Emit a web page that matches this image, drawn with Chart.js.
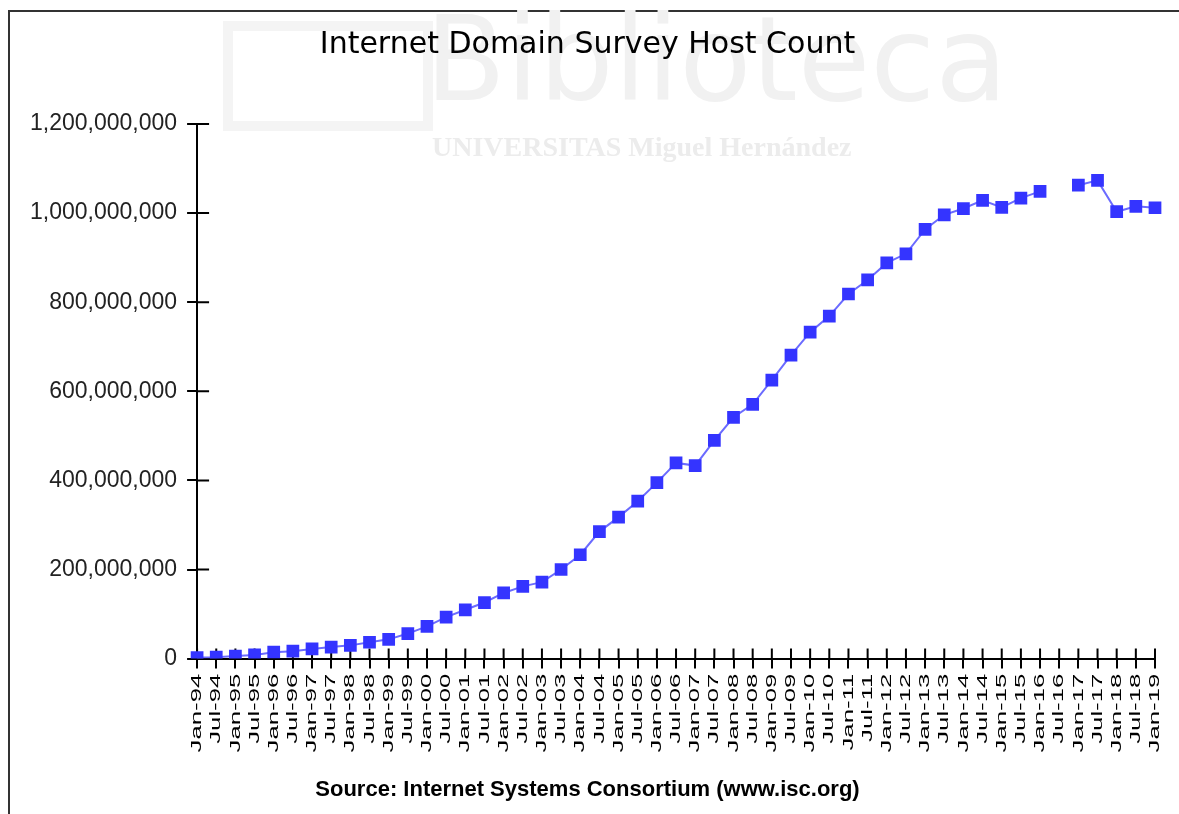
<!DOCTYPE html>
<html>
<head>
<meta charset="utf-8">
<script src="https://cdn.jsdelivr.net/npm/chart.js@4.4.0/dist/chart.umd.min.js"></script>
<style>
    html, body { margin: 0; padding: 0; background: #fff; }
    #wrap { position: relative; width: 1179px; height: 814px; overflow: hidden; }
    #frame { position: absolute; left: 8px; top: 10px; width: 1200px; height: 900px;
             border-left: 2px solid #333; border-top: 2px solid #333; }
    canvas { position: absolute; left: 0; top: 0; }
</style>
</head>
<body>
<div id="wrap">
    <div id="frame"></div>
    <canvas id="hostChart" width="1179" height="814"></canvas>
</div>
<script>
// Semestres do levantamento (Jan/Jul)
const surveyDates = [
    'Jan-94', 'Jul-94', 'Jan-95', 'Jul-95', 'Jan-96', 'Jul-96', 'Jan-97', 'Jul-97',
    'Jan-98', 'Jul-98', 'Jan-99', 'Jul-99', 'Jan-00', 'Jul-00', 'Jan-01', 'Jul-01',
    'Jan-02', 'Jul-02', 'Jan-03', 'Jul-03', 'Jan-04', 'Jul-04', 'Jan-05', 'Jul-05',
    'Jan-06', 'Jul-06', 'Jan-07', 'Jul-07', 'Jan-08', 'Jul-08', 'Jan-09', 'Jul-09',
    'Jan-10', 'Jul-10', 'Jan-11', 'Jul-11', 'Jan-12', 'Jul-12', 'Jan-13', 'Jul-13',
    'Jan-14', 'Jul-14', 'Jan-15', 'Jul-15', 'Jan-16', 'Jul-16', 'Jan-17', 'Jul-17',
    'Jan-18', 'Jul-18', 'Jan-19'
];

// Número de hosts, Jul-16 sem dado
const hostCounts = [
    2200000, 3200000, 5800000, 8200000, 14400000, 16700000, 21800000, 26000000,
    29700000, 36700000, 43200000, 56200000, 72400000, 93000000, 109600000, 125900000,
    147300000, 162100000, 171600000, 200000000, 233100000, 285100000, 317600000, 353300000,
    395000000, 439300000, 433200000, 489800000, 541700000, 570900000, 625200000, 681100000,
    732700000, 768900000, 818400000, 849900000, 888200000, 908600000, 963500000, 996200000,
    1010300000, 1028500000, 1012700000, 1033600000, 1048800000, null, 1062700000, 1073500000,
    1003100000, 1015100000, 1012000000
];

const yTicks = [0, 200000000, 400000000, 600000000, 800000000, 1000000000, 1200000000];

const chartTitle = 'Internet Domain Survey Host Count';
const chartSource = 'Source: Internet Systems Consortium (www.isc.org)';

// Marca d'água ao fundo
const watermark = {
    id: 'watermark',
    beforeDraw(chart) {
        const ctx = chart.ctx;
        ctx.save();
        ctx.strokeStyle = '#f4f4f4';
        ctx.lineWidth = 10;
        ctx.strokeRect(228, 26, 200, 100);
        ctx.fillStyle = '#f1f1f1';
        ctx.font = '118px "DejaVu Sans"';
        ctx.textBaseline = 'alphabetic';
        ctx.fillText('Biblioteca', 425, 100);
        ctx.font = 'bold 28px "Liberation Serif"';
        ctx.fillStyle = '#ececec';
        ctx.fillText('UNIVERSITAS Miguel Hernández', 432, 156);
        ctx.restore();
    }
};

// Traços dos ticks cruzando os eixos
const crossTicks = {
    id: 'crossTicks',
    beforeDatasetsDraw(chart) {
        const ctx = chart.ctx;
        const x = chart.scales.x;
        const y = chart.scales.y;
        const area = chart.chartArea;
        ctx.save();
        ctx.strokeStyle = '#000';
        ctx.lineWidth = 2;
        ctx.beginPath();
        x.ticks.forEach((t, i) => {
            const px = x.getPixelForTick(i);
            ctx.moveTo(px, area.bottom);
            ctx.lineTo(px, area.bottom - 10);
        });
        y.ticks.forEach((t, i) => {
            const py = y.getPixelForTick(i);
            ctx.moveTo(area.left, py);
            ctx.lineTo(area.left + 12, py);
        });
        ctx.stroke();
        ctx.restore();
    }
};

// Rótulos verticais do eixo X, esticados como no original
const xLabels = {
    id: 'xLabels',
    afterDraw(chart) {
        const ctx = chart.ctx;
        const x = chart.scales.x;
        const top = chart.chartArea.bottom + 15;
        ctx.save();
        ctx.fillStyle = '#000';
        ctx.font = '15px "Liberation Sans"';
        ctx.textAlign = 'right';
        ctx.textBaseline = 'middle';
        chart.data.labels.forEach((lbl, i) => {
            ctx.save();
            ctx.translate(x.getPixelForTick(i), top);
            ctx.rotate(-Math.PI / 2);
            ctx.scale(1.72, 1);
            ctx.fillText(lbl, 0, 0);
            ctx.restore();
        });
        ctx.restore();
    }
};

const hostCtx = document.getElementById('hostChart').getContext('2d');
const hostChart = new Chart(hostCtx, {
    type: 'line',
    data: {
        labels: surveyDates,
        datasets: [{
            label: 'Hosts',
            data: hostCounts,
            borderColor: '#6b6bff',
            borderWidth: 2,
            backgroundColor: '#3434ff',
            pointStyle: 'rect',
            pointRadius: 9,
            pointBorderWidth: 0,
            pointBackgroundColor: '#3434ff',
            spanGaps: false,
            tension: 0
        }]
    },
    options: {
        responsive: false,
        animation: false,
        layout: {
            padding: { left: 20, right: 24, top: 0, bottom: 0 }
        },
        plugins: {
            legend: { display: false },
            tooltip: { enabled: false },
            title: {
                display: true,
                text: chartTitle,
                color: '#000',
                font: { family: '"DejaVu Sans"', size: 30, weight: 'normal' },
                padding: { top: 27, bottom: 61 }
            },
            subtitle: {
                display: true,
                position: 'bottom',
                text: chartSource,
                color: '#000',
                font: { family: '"Liberation Sans"', size: 22, weight: 'bold' },
                padding: { top: 108, bottom: 11 }
            }
        },
        scales: {
            x: {
                offset: false,
                grid: { drawOnChartArea: false, drawTicks: true, tickLength: 10, color: '#000', lineWidth: 2 },
                border: { color: '#000', width: 2 },
                ticks: { display: false, autoSkip: false }
            },
            y: {
                min: 0,
                max: 1200000000,
                afterBuildTicks(scale) {
                    scale.ticks = yTicks.map(v => ({ value: v }));
                },
                grid: { drawOnChartArea: false, drawTicks: true, tickLength: 10, color: '#000', lineWidth: 2 },
                border: { color: '#000', width: 2 },
                ticks: {
                    padding: 10,
                    color: '#222',
                    font: { family: '"Liberation Sans"', size: 23 },
                    callback: v => v.toLocaleString('en-US')
                }
            }
        }
    },
    plugins: [watermark, crossTicks, xLabels]
});
</script>
</body>
</html>
